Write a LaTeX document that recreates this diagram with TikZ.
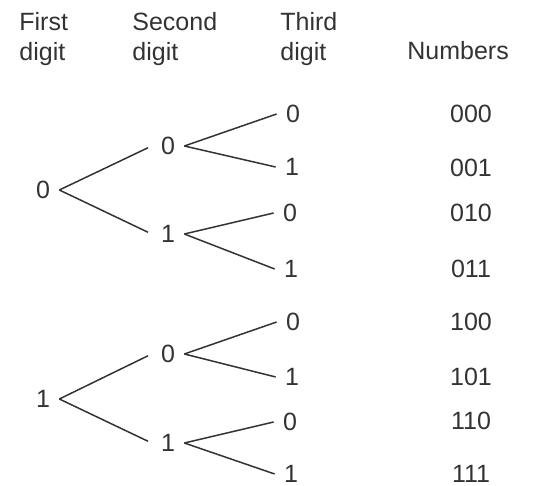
\documentclass[tikz,border=0pt]{standalone}
\usepackage{fontspec}
\setmainfont{Liberation Sans}
\usepackage{tikz}

\definecolor{ink}{HTML}{333333}
\newcommand{\treefont}{\fontsize{12.5}{15}\selectfont}

\tikzset{
    bit/.style={font=\treefont, text=ink, inner sep=4.5pt},
    head/.style={font=\treefont, text=ink, align=left, inner sep=0pt, anchor=north west},
    branch/.style={draw=ink, line width=0.75pt}
}

\begin{document}
\begin{tikzpicture}[x=0.5pt,y=-0.5pt]
    \useasboundingbox (0,0) rectangle (536,486);

    % column headings
    \node[head] (hfirst) at (19,12) {First\\digit};
    \node[head] (hsecond) at (132,12) {Second\\digit};
    \node[head] (hthird) at (280,12) {Third\\digit};
    \node[head, anchor=base west] (hnum) at (407,60) {Numbers};

    % first digit
    \node[bit] (r0) at (43,190) {0};
    \node[bit] (r1) at (43,399) {1};

    % second digit
    \node[bit] (s00) at (168,146) {0};
    \node[bit] (s01) at (168,234) {1};
    \node[bit] (s10) at (168,354) {0};
    \node[bit] (s11) at (168,443) {1};

    % third digit
    \foreach \n/\d/\x/\y in {000/0/293/114, 001/1/292/167, 010/0/290/213, 011/1/291/269,
                             100/0/293/322, 101/1/292/377, 110/0/290/422, 111/1/291/474}{
        \node[bit] (l\n) at (\x,\y) {\d};
    }

    % resulting numbers
    \foreach \n/\y in {000/114, 001/168, 010/213, 011/269, 100/322, 101/377, 110/421, 111/474}{
        \node[bit] (n\n) at (471,\y) {\n};
    }

    % branches
    \foreach \a/\b in {r0/s00, r0/s01, r1/s10, r1/s11}{
        \draw[branch, shorten >=2pt] (\a.east) -- (\b.west);
    }
    \foreach \p in {00,01,10,11}{
        \draw[branch] (s\p.east) -- (l\p0.west);
        \draw[branch] (s\p.east) -- (l\p1.west);
    }
\end{tikzpicture}
\end{document}
